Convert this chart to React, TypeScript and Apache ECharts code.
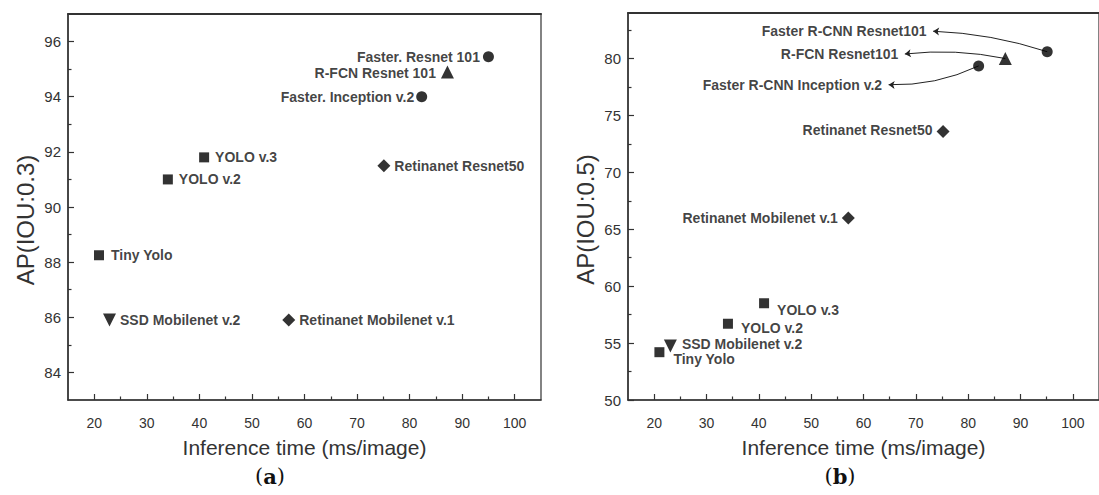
import React, { useEffect, useRef } from 'react';
import * as echarts from 'echarts';

// ---------- data ----------
const xTicks = [20, 30, 40, 50, 60, 70, 80, 90, 100];
const xMinorTicks = [25, 35, 45, 55, 65, 75, 85, 95];
const yTicksA = [84, 86, 88, 90, 92, 94, 96];
const yMinorTicksA = [85, 87, 89, 91, 93, 95];
const yTicksB = [50, 55, 60, 65, 70, 75, 80];
const yMinorTicksB = [52.5, 57.5, 62.5, 67.5, 72.5, 77.5, 82.5];

const families = ['faster', 'rfcn', 'faster', 'retina', 'yolo', 'yolo', 'yolo', 'ssd', 'retina'];

const modelsA = [
  'Faster. Resnet 101',
  'R-FCN Resnet 101',
  'Faster. Inception v.2',
  'Retinanet Resnet50',
  'YOLO v.3',
  'YOLO v.2',
  'Tiny Yolo',
  'SSD Mobilenet v.2',
  'Retinanet Mobilenet v.1',
];
const timeA = [95, 87.2, 82.3, 75.1, 40.9, 34, 20.9, 22.9, 57];
const apA = [95.45, 94.9, 94.0, 91.5, 91.8, 91.0, 88.25, 85.9, 85.9];

const modelsB = [
  'Faster R-CNN Resnet101',
  'R-FCN Resnet101',
  'Faster R-CNN Inception v.2',
  'Retinanet Resnet50',
  'YOLO v.3',
  'YOLO v.2',
  'Tiny Yolo',
  'SSD Mobilenet v.2',
  'Retinanet Mobilenet v.1',
];
const timeB = [95.1, 87.1, 82, 75.2, 41, 34.1, 21, 23.1, 57.1];
const apB = [80.6, 80.0, 79.35, 73.6, 58.5, 56.7, 54.2, 54.75, 66.0];

// annotated (arrowed) points of panel b and where their labels sit (data coords)
const arrowedB = [0, 1, 2];
const arrowEndsB = [
  [73.3, 82.4],
  [67.9, 80.4],
  [64.8, 77.7],
];

// ---------- styles ----------
const FONT = "'Liberation Sans', Arial, sans-serif";
const SERIF = "'DejaVu Serif', 'Liberation Serif', serif";
const INK = '#111';
const AXIS = '#333';

const symbolOf: Record<string, [string, number, number]> = {
  faster: ['circle', 11, 0],
  rfcn: ['triangle', 13, 0],
  retina: ['diamond', 13, 0],
  yolo: ['rect', 10, 0],
  ssd: ['triangle', 13, 180],
};

const labelPlaceA: any[] = [
  { position: 'left', distance: 3 },
  { position: 'left', distance: 5, offset: [0, 1.5] },
  { position: 'left', distance: 2 },
  { position: 'right', distance: 4 },
  { position: 'right', distance: 6 },
  { position: 'right', distance: 6 },
  { position: 'right', distance: 7 },
  { position: 'right', distance: 4 },
  { position: 'right', distance: 4 },
];
const labelPlaceB: any[] = [
  null,
  null,
  null,
  { position: 'left', distance: 4, offset: [0, -1.5] },
  { position: 'right', distance: 8, offset: [0, 7] },
  { position: 'right', distance: 8, offset: [0, 4.5] },
  { position: 'right', distance: 9, offset: [0, 7] },
  { position: 'right', distance: 5, offset: [0, -2] },
  { position: 'left', distance: 4 },
];
const curvesB = [-0.07, -0.08, 0.12];

function pointData(models: string[], xs: number[], ys: number[], place: any[]) {
  return models.map((name, i) => {
    const [symbol, size, rot] = symbolOf[families[i]];
    const p = place[i];
    return {
      name,
      value: [xs[i], ys[i]],
      symbol,
      symbolSize: size,
      symbolRotate: rot,
      label: p ? { show: true, ...p } : { show: false },
    };
  });
}

function xAxes(gridIndex: number) {
  const base = { type: 'value', gridIndex, min: 15, max: 105, splitLine: { show: false } };
  return [
    {
      ...base,
      position: 'bottom',
      axisLine: { show: true, onZero: false, lineStyle: { color: AXIS, width: 1.5 } },
      axisTick: { show: true, inside: true, length: 6, customValues: xTicks, lineStyle: { color: AXIS, width: 1.2 } },
      axisLabel: { show: true, customValues: xTicks, margin: 16, color: AXIS, fontSize: 14, fontFamily: FONT },
      name: 'Inference time (ms/image)',
      nameLocation: 'middle',
      nameGap: 37,
      nameTextStyle: { fontSize: 21, color: AXIS, fontFamily: FONT },
    },
    {
      ...base,
      position: 'bottom',
      axisLine: { show: false, onZero: false },
      axisTick: { show: true, inside: true, length: 3.5, customValues: xMinorTicks, lineStyle: { color: AXIS, width: 1.2 } },
      axisLabel: { show: false },
    },
    {
      ...base,
      position: 'top',
      axisLine: { show: true, onZero: false, lineStyle: { color: AXIS, width: 2 } },
      axisTick: { show: false },
      axisLabel: { show: false },
    },
  ];
}

function yAxes(gridIndex: number, min: number, max: number, major: number[], minor: number[], name: string) {
  const base = { type: 'value', gridIndex, min, max, position: 'left', splitLine: { show: false } };
  return [
    {
      ...base,
      axisLine: { show: true, onZero: false, lineStyle: { color: AXIS, width: 1.5 } },
      axisTick: { show: true, inside: true, length: 6, customValues: major, lineStyle: { color: AXIS, width: 1.2 } },
      axisLabel: { show: true, customValues: major, margin: 7, color: AXIS, fontSize: 15, fontFamily: FONT },
      name,
      nameLocation: 'middle',
      nameGap: 31,
      nameTextStyle: { fontSize: 24, color: AXIS, fontFamily: FONT, padding: [0, 26, 0, 0] },
    },
    {
      ...base,
      axisLine: { show: false, onZero: false },
      axisTick: { show: true, inside: true, length: 3.5, customValues: minor, lineStyle: { color: AXIS, width: 1.2 } },
      axisLabel: { show: false },
    },
  ];
}

const pointLabelStyle = {
  color: INK,
  fontSize: 14,
  lineHeight: 12,
  fontWeight: 'bold',
  fontFamily: FONT,
  formatter: '{b}',
};

function caption(x: number, letter: string) {
  return {
    type: 'text',
    x,
    y: 476,
    style: {
      text: `{p|(}{b|${letter}}{p|)}`,
      align: 'center',
      verticalAlign: 'middle',
      rich: {
        p: { fontFamily: SERIF, fontSize: 21, fill: '#111' },
        b: { fontFamily: SERIF, fontSize: 21, fontWeight: 'bold', fill: '#111' },
      },
    },
  };
}

export default function App() {
  const ref = useRef<HTMLDivElement>(null);

  useEffect(() => {
    if (!ref.current) return;
    const chart = echarts.init(ref.current, undefined, { renderer: 'svg' });

    const option: any = {
      animation: false,
      backgroundColor: '#fff',
      grid: [
        { left: 68, top: 14, width: 473, height: 386, show: true, borderColor: AXIS, borderWidth: 1.2, containLabel: false },
        { left: 628, top: 13, width: 477, height: 387, show: true, borderColor: AXIS, borderWidth: 1.2, containLabel: false },
      ],
      xAxis: [...xAxes(0), ...xAxes(1)],
      yAxis: [
        ...yAxes(0, 83, 97, yTicksA, yMinorTicksA, 'AP(IOU:0.3)'),
        ...yAxes(1, 50, 84, yTicksB, yMinorTicksB, 'AP(IOU:0.5)'),
      ],
      series: [
        {
          type: 'scatter',
          xAxisIndex: 0,
          yAxisIndex: 0,
          itemStyle: { color: '#000' },
          label: pointLabelStyle,
          data: pointData(modelsA, timeA, apA, labelPlaceA),
          z: 3,
        },
        {
          type: 'lines',
          coordinateSystem: 'cartesian2d',
          xAxisIndex: 3,
          yAxisIndex: 2,
          symbol: ['none', 'arrow'],
          symbolSize: 6,
          silent: true,
          lineStyle: { color: '#222', width: 1, opacity: 1 },
          data: arrowedB.map((idx, k) => ({
            coords: [[timeB[idx], apB[idx]], arrowEndsB[k]],
            lineStyle: { curveness: curvesB[k] },
          })),
          z: 2,
        },
        {
          type: 'scatter',
          xAxisIndex: 3,
          yAxisIndex: 2,
          itemStyle: { color: '#000' },
          label: pointLabelStyle,
          data: pointData(modelsB, timeB, apB, labelPlaceB),
          z: 3,
        },
        {
          type: 'scatter',
          xAxisIndex: 3,
          yAxisIndex: 2,
          symbol: 'circle',
          symbolSize: 1,
          silent: true,
          itemStyle: { color: 'rgba(0,0,0,0)' },
          label: { ...pointLabelStyle, show: true, position: 'left', distance: 6 },
          data: arrowedB.map((idx, k) => ({ name: modelsB[idx], value: arrowEndsB[k] })),
          z: 3,
        },
      ],
      graphic: [caption(270, 'a'), caption(840, 'b')],
    };

    chart.setOption(option);
    return () => chart.dispose();
  }, []);

  return (
    <div
      ref={ref}
      style={{ position: 'absolute', left: 0, top: 0, width: 1099, height: 495, background: '#fff' }}
    />
  );
}
